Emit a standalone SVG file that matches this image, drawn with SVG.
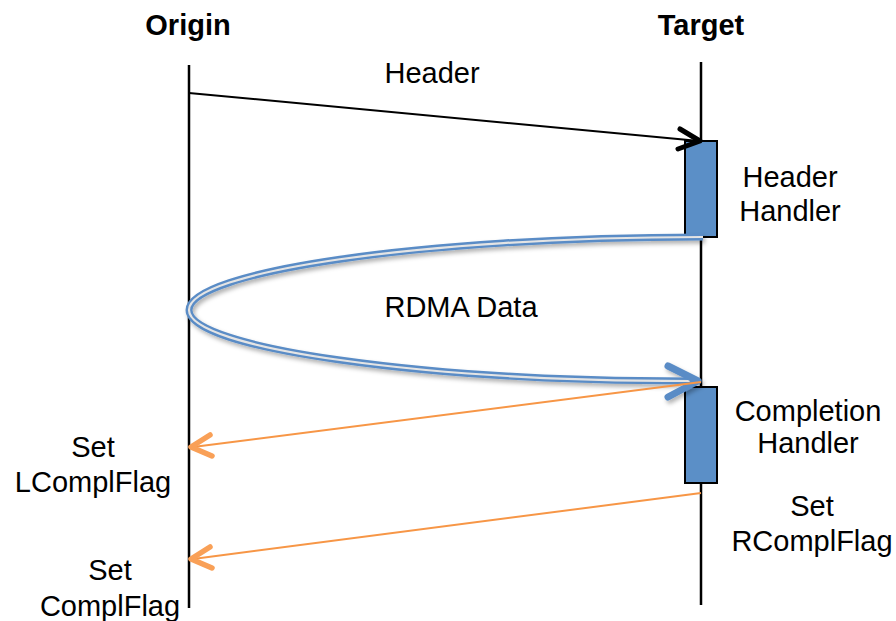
<svg xmlns="http://www.w3.org/2000/svg" width="896" height="621" viewBox="0 0 896 621">
<defs>
<style>
text{font-family:"Liberation Sans",Arial,sans-serif;font-size:29px;fill:#000;text-anchor:middle}
.title{font-weight:bold}
.life{stroke:#000;stroke-width:2.5;fill:none}
.box{fill:#5B8FC7;stroke:#000;stroke-width:2}
.orange{stroke:#F79646;stroke-width:2;fill:none}
.ohead{stroke:#F9A057;stroke-width:5.5;fill:none;stroke-linecap:round;stroke-linejoin:round}
</style>
<filter id="sh" x="-10%" y="-20%" width="120%" height="140%">
<feDropShadow dx="2" dy="3" stdDeviation="2" flood-color="#000" flood-opacity="0.3"/>
</filter>
</defs>
<rect width="896" height="621" fill="#fff"/>
<g id="origin">
<text class="title" x="188" y="35">Origin</text>
<line class="life" x1="189" y1="65" x2="189" y2="608"/>
</g>
<g id="target">
<text class="title" x="701" y="35">Target</text>
<line class="life" x1="701" y1="62" x2="701" y2="605"/>
</g>
<g id="header-handler">
<rect class="box" x="685" y="141" width="32" height="96"/>
<text x="790" y="187">Header</text>
<text x="790" y="221">Handler</text>
</g>
<g id="completion-handler">
<rect class="box" x="685" y="387" width="32" height="96"/>
<text x="808" y="421">Completion</text>
<text x="808" y="453">Handler</text>
</g>
<g id="connectors">
<g id="header-msg">
<line x1="189" y1="93" x2="699" y2="141" stroke="#000" stroke-width="2"/>
<polyline points="680,129 700,141 678,149" fill="none" stroke="#000" stroke-width="5" stroke-linecap="round" stroke-linejoin="round"/>
<text x="432" y="83">Header</text>
</g>
<g id="rdma-data">
<g filter="url(#sh)">
<path d="M703,237 C420,237 189,272 189,310 C189,348 420,381 690,381" fill="none" stroke="#5A8CC6" stroke-width="7"/>
<path d="M703,237 C420,237 189,272 189,310 C189,348 420,381 690,381" fill="none" stroke="#E4E4E4" stroke-width="2.2"/>
<polyline points="668,366 698,381 668,397" fill="none" stroke="#5A8CC6" stroke-width="7" stroke-linecap="round" stroke-linejoin="round"/>
</g>
<text x="461" y="317">RDMA Data</text>
</g>
<g id="lcompl">
<line class="orange" x1="701" y1="382" x2="193" y2="447"/>
<polyline class="ohead" points="210,435 191,447 212,456"/>
</g>
<g id="compl">
<line class="orange" x1="701" y1="493" x2="193" y2="559"/>
<polyline class="ohead" points="210,547 191,559 212,568"/>
</g>
</g>
<g id="labels">
<text x="93" y="457">Set</text>
<text x="93" y="492">LComplFlag</text>
<text x="110" y="580">Set</text>
<text x="110" y="616">ComplFlag</text>
<text x="812" y="516">Set</text>
<text x="812" y="551">RComplFlag</text>
</g>
</svg>
